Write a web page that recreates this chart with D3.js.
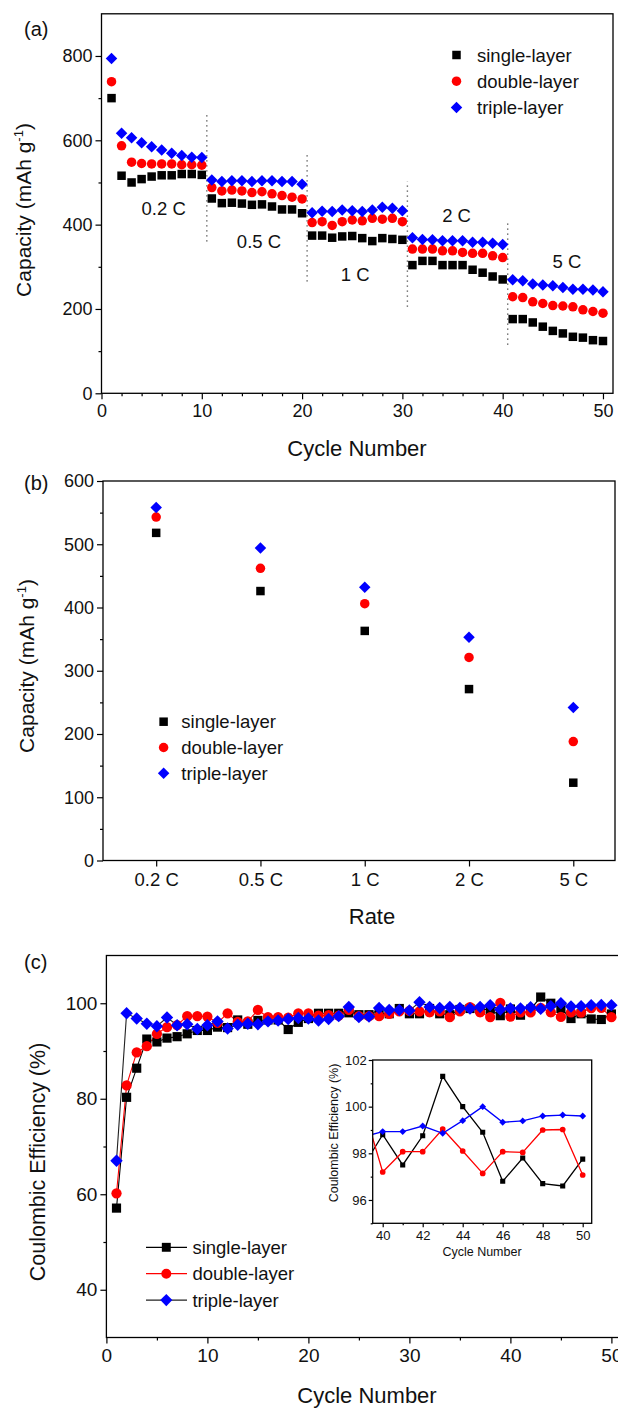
<!DOCTYPE html>
<html>
<head>
<meta charset="utf-8">
<script src="https://cdnjs.cloudflare.com/ajax/libs/d3/7.8.5/d3.min.js"></script>
<style>
  body { margin: 0; background: #fff; }
  svg { display: block; font-family: "Liberation Sans", Arial, sans-serif; }
</style>
</head>
<body>
<div id="chart"></div>
<script>
var width = 618;
var height = 1409;

// ---- data ----
var series = ["single-layer", "double-layer", "triple-layer"];
var colors = ["#000000", "#ff0000", "#0000ff"];
var shapes = ["square", "circle", "diamond"];

// (a) capacity vs cycle number
var cycles = d3.range(1, 51);
var capSingle = [700, 516, 500, 508, 514, 517, 517, 520, 520, 518,
                 462, 451, 452, 450, 447, 448, 443, 436, 436, 427,
                 374, 374, 369, 372, 373, 368, 361, 368, 366, 364,
                 304, 314, 314, 304, 304, 304, 293, 286, 277, 270,
                 176, 176, 168, 158, 148, 142, 134, 132, 126, 124];
var capDouble = [739, 587, 548, 545, 544, 544, 544, 542, 542, 541,
                 488, 480, 482, 480, 476, 478, 473, 469, 465, 461,
                 405, 407, 398, 407, 411, 409, 415, 413, 415, 407,
                 342, 342, 342, 338, 338, 334, 332, 332, 326, 322,
                 229, 227, 217, 213, 208, 207, 205, 198, 194, 190];
var capTriple = [794, 617, 606, 594, 585, 577, 569, 564, 560, 559,
                 506, 502, 504, 504, 502, 504, 504, 502, 502, 496,
                 428, 432, 431, 435, 433, 431, 435, 441, 439, 433,
                 369, 365, 364, 362, 362, 362, 358, 358, 356, 353,
                 269, 267, 259, 257, 255, 251, 247, 247, 245, 241];
var rates = ["0.2 C", "0.5 C", "1 C", "2 C", "5 C"];
// where each rate label sits in panel (a), [cycle, capacity]
var rateLabelAt = [[6.2, 422], [15.7, 345], [25.3, 266], [35.4, 407], [46.4, 297]];
// dotted dividers between the rate steps: [cycle, from, to]
var dividers = [[10.5, 360, 660], [20.5, 265, 565], [30.5, 205, 502], [40.5, 115, 411]];

// (b) average capacity per rate
var rateSingle = [518, 426, 363, 271, 123];
var rateDouble = [543, 462, 406, 321, 188];
var rateTriple = [558, 494, 432, 353, 242];

// (c) coulombic efficiency (%)
var ceSingle = [57.1, 80.3, 86.4, 92.5, 91.9, 92.7, 93.0, 93.6, 94.3, 94.3,
                95.0, 94.9, 96.5, 95.6, 96.4, 96.5, 96.5, 94.5, 96.0, 96.8,
                97.9, 97.9, 97.9, 98.0, 97.6, 97.6, 97.8, 97.8, 98.9, 97.8,
                97.8, 98.9, 97.8, 97.6, 98.7, 98.9, 98.7, 98.7, 97.4, 98.8,
                97.5, 98.75, 101.3, 100.0, 98.9, 96.8, 97.8, 96.7, 96.6, 97.75];
var ceDouble = [60.2, 82.8, 89.7, 91.0, 93.6, 95.0, 95.4, 97.3, 97.3, 97.2,
                95.9, 97.9, 96.1, 96.2, 98.6, 97.1, 97.1, 97.0, 97.9, 97.9,
                97.4, 97.5, 97.4, 98.6, 97.3, 97.3, 97.3, 97.8, 98.3, 98.4,
                98.3, 98.1, 98.3, 97.1, 98.3, 99.2, 98.1, 97.1, 100.1, 97.2,
                98.07, 98.07, 99.04, 98.1, 97.14, 98.07, 98.04, 99.0, 99.02, 97.07];
var ceTriple = [67.0, 97.9, 96.8, 95.7, 95.2, 97.0, 95.4, 95.6, 94.6, 95.4,
                96.2, 94.7, 95.5, 95.7, 95.6, 96.2, 96.4, 96.7, 96.9, 96.8,
                96.4, 96.7, 97.3, 99.2, 97.1, 97.2, 99.0, 98.6, 98.6, 98.5,
                100.2, 99.2, 99.0, 99.2, 99.0, 98.9, 99.2, 99.6, 98.7, 98.93,
                98.93, 99.17, 98.86, 99.4, 100.0, 99.33, 99.39, 99.6, 99.64, 99.6];

// ---- helpers ----
//marker path for a given shape, s = visual size in px
function symbolPath(shape, s) {
  if (shape == "square") return d3.symbol(d3.symbolSquare, s * s)();
  if (shape == "circle") return d3.symbol(d3.symbolCircle, Math.PI * s * s / 4)();
  var h = s / 2;
  return "M0," + (-h) + "L" + h + ",0L0," + h + "L" + (-h) + ",0Z";
}
var markSize = { square: 8.5, circle: 9.5, diamond: 11.5 };

function drawPoints(g, xs, ys, x, y, i, scale) {
  var k = scale || 1;
  g.append("g").selectAll("path")
    .data(ys)
    .enter()
    .append("path")
    .attr("d", symbolPath(shapes[i], markSize[shapes[i]] * k))
    .attr("transform", (d, j) => "translate(" + x(xs[j]) + "," + y(d) + ")")
    .attr("fill", colors[i]);
}

//major + minor ticks, Origin style (outward, no labels on minor)
function styleAxis(g, fontSize) {
  g.selectAll(".domain").remove();
  g.selectAll("line").attr("stroke", "#000").attr("stroke-width", 1.2);
  g.selectAll("text").attr("font-size", fontSize).attr("fill", "#111")
    .attr("font-family", "'Liberation Sans', Arial, sans-serif");
}
function axisPair(g, axisFn, scale, major, minor, tickLen, fontSize, fmt, pad) {
  g.append("g").call(axisFn(scale).tickValues(minor).tickSize(tickLen / 2).tickFormat(""))
    .call(styleAxis, fontSize);
  g.append("g").call(axisFn(scale).tickValues(major).tickSize(tickLen).tickPadding(pad)
    .tickFormat(fmt || d3.format("d"))).call(styleAxis, fontSize);
}

function frame(svg, x, y) {
  var x0 = x.range()[0], x1 = x.range()[1], y0 = y.range()[0], y1 = y.range()[1];
  svg.append("rect")
    .attr("x", x0).attr("y", y1)
    .attr("width", x1 - x0).attr("height", y0 - y1)
    .attr("fill", "none").attr("stroke", "#000").attr("stroke-width", 1.3);
}

function ytitle(svg, cx, cy, fontSize) {
  return svg.append("text")
    .attr("transform", "translate(" + cx + "," + cy + ") rotate(-90)")
    .attr("text-anchor", "middle")
    .attr("font-size", fontSize)
    .attr("fill", "#111");
}

var svg = d3.select("#chart").append("svg")
  .attr("width", width)
  .attr("height", height);
svg.append("rect").attr("width", width).attr("height", height).attr("fill", "#fff");

// ================= panel (a) =================
var xA = d3.scaleLinear().domain([0, 51]).range([101.5, 613]);
var yA = d3.scaleLinear().domain([0, 900]).range([393.3, 13.8]);
var gA = svg.append("g");

gA.append("g").attr("transform", "translate(0," + yA(0) + ")")
  .call(axisPair, d3.axisBottom, xA, d3.range(0, 51, 10), d3.range(2, 50, 2).filter(d => d % 10), 6, 18, null, 5);
gA.append("g").attr("transform", "translate(" + xA(0) + ",0)")
  .call(axisPair, d3.axisLeft, yA, d3.range(0, 801, 200), [100, 300, 500, 700], 6, 18, null, 3);
frame(gA, xA, yA);

//dotted separators between rates
gA.selectAll(".divider")
  .data(dividers)
  .enter()
  .append("line")
  .attr("x1", d => xA(d[0])).attr("x2", d => xA(d[0]))
  .attr("y1", d => yA(d[1])).attr("y2", d => yA(d[2]))
  .attr("stroke", "#555")
  .attr("stroke-width", 1.4)
  .attr("stroke-dasharray", "1.3,3.7");

drawPoints(gA, cycles, capSingle, xA, yA, 0);
drawPoints(gA, cycles, capDouble, xA, yA, 1);
drawPoints(gA, cycles, capTriple, xA, yA, 2);

gA.selectAll(".ratelabel")
  .data(rates)
  .enter()
  .append("text")
  .attr("x", (d, i) => xA(rateLabelAt[i][0]))
  .attr("y", (d, i) => yA(rateLabelAt[i][1]))
  .attr("text-anchor", "middle")
  .attr("font-size", 18.5)
  .attr("fill", "#111")
  .text(d => d);

//legend (a)
series.forEach(function(name, i) {
  var cy = 55 + i * 26.2;
  gA.append("path").attr("d", symbolPath(shapes[i], markSize[shapes[i]]))
    .attr("transform", "translate(456.5," + cy + ")").attr("fill", colors[i]);
  gA.append("text").attr("x", 477).attr("y", cy + 6.5)
    .attr("font-size", 18.5).attr("fill", "#111").text(name);
});

gA.append("text").attr("x", 357).attr("y", 456).attr("text-anchor", "middle")
  .attr("font-size", 22).attr("fill", "#111").text("Cycle Number");
var tA = ytitle(gA, 31, 210, 21);
tA.append("tspan").text("Capacity (mAh g");
tA.append("tspan").attr("font-size", 13).attr("dy", -8).text("-1");
tA.append("tspan").attr("dy", 8).text(")");
gA.append("text").attr("x", 24).attr("y", 36).attr("font-size", 20).attr("fill", "#111").text("(a)");

// ================= panel (b) =================
var xB = d3.scaleLinear().domain([-0.51, 4.4]).range([103, 615]);
var yB = d3.scaleLinear().domain([0, 600]).range([860.5, 481]);
var gB = svg.append("g");

gB.append("g").attr("transform", "translate(0," + yB(0) + ")")
  .call(axisPair, d3.axisBottom, xB, d3.range(rates.length), [], 6, 18.5, i => rates[i], 6);
gB.append("g").attr("transform", "translate(" + xB(-0.51) + ",0)")
  .call(axisPair, d3.axisLeft, yB, d3.range(0, 601, 100), d3.range(50, 600, 100), 6, 18, null, 3);
frame(gB, xB, yB);

var rateIdx = d3.range(rates.length);
drawPoints(gB, rateIdx, rateSingle, xB, yB, 0);
drawPoints(gB, rateIdx, rateDouble, xB, yB, 1);
drawPoints(gB, rateIdx, rateTriple, xB, yB, 2);

series.forEach(function(name, i) {
  var cy = 721.7 + i * 25.8;
  gB.append("path").attr("d", symbolPath(shapes[i], markSize[shapes[i]]))
    .attr("transform", "translate(163.6," + cy + ")").attr("fill", colors[i]);
  gB.append("text").attr("x", 181.3).attr("y", cy + 6.5)
    .attr("font-size", 18.5).attr("fill", "#111").text(name);
});

gB.append("text").attr("x", 372).attr("y", 924).attr("text-anchor", "middle")
  .attr("font-size", 22).attr("fill", "#111").text("Rate");
var tB = ytitle(gB, 34, 666, 21);
tB.append("tspan").text("Capacity (mAh g");
tB.append("tspan").attr("font-size", 13).attr("dy", -8).text("-1");
tB.append("tspan").attr("dy", 8).text(")");
gB.append("text").attr("x", 24).attr("y", 490).attr("font-size", 20).attr("fill", "#111").text("(b)");

// ================= panel (c) =================
var xC = d3.scaleLinear().domain([0, 52]).range([106.4, 631.6]);
var yC = d3.scaleLinear().domain([30, 110]).range([1337.5, 955.5]);
var gC = svg.append("g");

gC.append("g").attr("transform", "translate(0," + yC(30) + ")")
  .call(axisPair, d3.axisBottom, xC, d3.range(0, 51, 10), d3.range(5, 51, 10), 6, 19, null, 5);
gC.append("g").attr("transform", "translate(" + xC(0) + ",0)")
  .call(axisPair, d3.axisLeft, yC, [40, 60, 80, 100], [50, 70, 90], 6, 19, null, 3);
frame(gC, xC, yC);

var ceAll = [ceSingle, ceDouble, ceTriple];
var lineColors = ["#000000", "#ff0000", "#222222"];

ceAll.forEach(function(vals, i) {
  var line = d3.line().x((d, j) => xC(cycles[j])).y(d => yC(d));
  gC.append("path").datum(vals).attr("d", line)
    .attr("fill", "none").attr("stroke", lineColors[i]).attr("stroke-width", 1.1);
});
ceAll.forEach(function(vals, i) { drawPoints(gC, cycles, vals, xC, yC, i, 1.08); });

series.forEach(function(name, i) {
  var cy = 1247.3 + i * 26.4;
  gC.append("line").attr("x1", 146).attr("x2", 187).attr("y1", cy).attr("y2", cy)
    .attr("stroke", lineColors[i]).attr("stroke-width", 1.2);
  gC.append("path").attr("d", symbolPath(shapes[i], markSize[shapes[i]] * 1.05))
    .attr("transform", "translate(166.3," + cy + ")").attr("fill", colors[i]);
  gC.append("text").attr("x", 192.4).attr("y", cy + 6.5)
    .attr("font-size", 18.5).attr("fill", "#111").text(name);
});

gC.append("text").attr("x", 367).attr("y", 1403).attr("text-anchor", "middle")
  .attr("font-size", 22).attr("fill", "#111").text("Cycle Number");
ytitle(gC, 45, 1162, 21.5).text("Coulombic Efficiency (%)");
gC.append("text").attr("x", 24).attr("y", 969).attr("font-size", 20).attr("fill", "#111").text("(c)");

// ---- inset: zoom on cycles 40-50 ----
var xI = d3.scaleLinear().domain([39.5, 50.45]).range([372.7, 591.7]);
var yI = d3.scaleLinear().domain([95, 102]).range([1223.3, 1060]);
var gI = gC.append("g");

gI.append("rect").attr("x", xI(39.5)).attr("y", yI(102))
  .attr("width", xI(50.45) - xI(39.5)).attr("height", yI(95) - yI(102))
  .attr("fill", "#fff");
gI.append("g").attr("transform", "translate(0," + yI(95) + ")")
  .call(axisPair, d3.axisBottom, xI, d3.range(40, 51, 2), d3.range(41, 50, 2), 4, 13, null, 3);
gI.append("g").attr("transform", "translate(" + xI(39.5) + ",0)")
  .call(axisPair, d3.axisLeft, yI, [96, 98, 100, 102], [95, 97, 99, 101], 4, 13, null, 2);

svg.append("defs").append("clipPath").attr("id", "insetclip")
  .append("rect").attr("x", xI(39.5)).attr("y", yI(102))
  .attr("width", xI(50.45) - xI(39.5)).attr("height", yI(95) - yI(102));

var insetCycles = cycles.slice(38);
var gIn = gI.append("g").attr("clip-path", "url(#insetclip)");
var insetLine = ["#000000", "#ff0000", "#0000ff"];
ceAll.forEach(function(vals, i) {
  var v = vals.slice(38);
  var line = d3.line().x((d, j) => xI(insetCycles[j])).y(d => yI(d));
  gIn.append("path").datum(v).attr("d", line)
    .attr("fill", "none").attr("stroke", insetLine[i]).attr("stroke-width", 1.3);
  drawPoints(gIn, insetCycles, v, xI, yI, i, 0.6);
});
frame(gI, xI, yI);

gI.append("text").attr("x", 482).attr("y", 1255.5).attr("text-anchor", "middle")
  .attr("font-size", 12.5).attr("fill", "#111").text("Cycle Number");
ytitle(gI, 338, 1133, 12.5).text("Coulombic Efficiency (%)");
</script>
</body>
</html>
